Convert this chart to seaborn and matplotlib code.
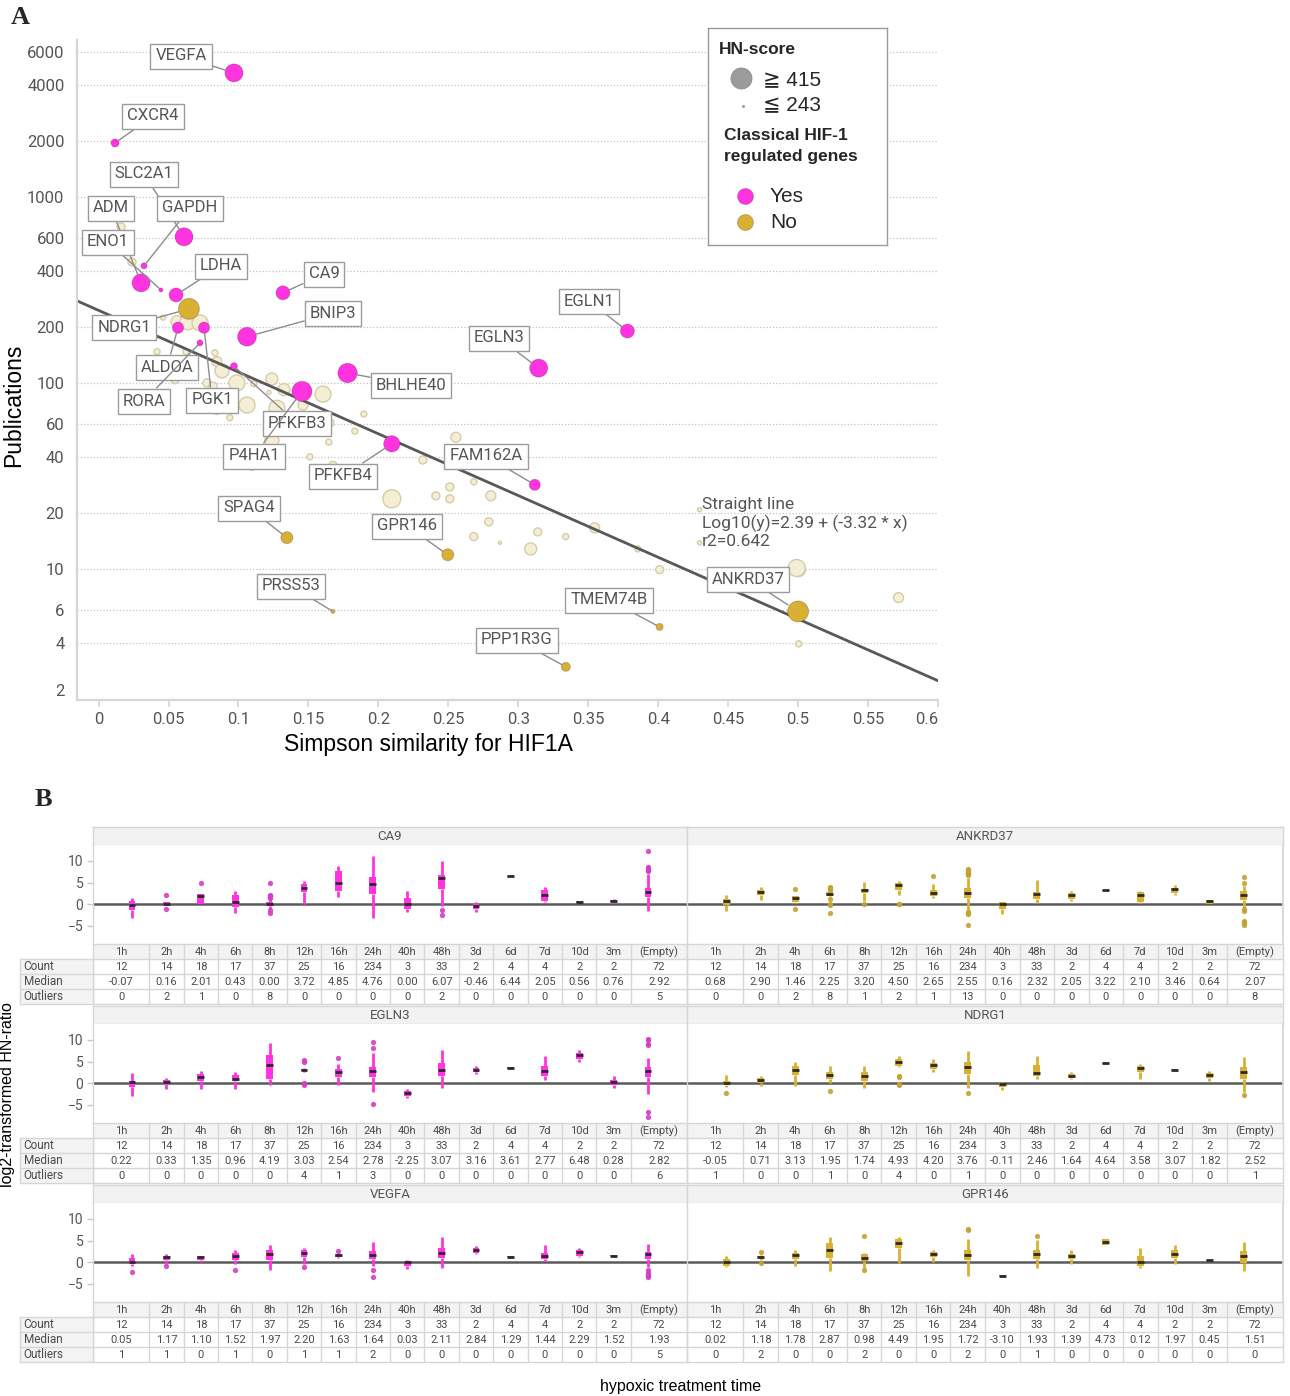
import numpy as np
import pandas as pd
import matplotlib
matplotlib.use("Agg")
import matplotlib.pyplot as plt
from matplotlib.patches import Rectangle
from matplotlib.ticker import NullLocator
import seaborn as sns

# ---------------------------------------------------------------- data (A)
genes = ["VEGFA", "CXCR4", "SLC2A1", "GAPDH", "ADM", "ENO1", "LDHA", "CA9",
         "BNIP3", "ALDOA", "PGK1", "RORA", "PFKFB3", "P4HA1", "BHLHE40",
         "PFKFB4", "EGLN1", "EGLN3", "FAM162A",
         "NDRG1", "SPAG4", "PRSS53", "GPR146", "TMEM74B", "PPP1R3G", "ANKRD37"]
gene_simpson = [0.0968, 0.0118, 0.0611, 0.0325, 0.0304, 0.0446, 0.0554, 0.1318,
                0.1061, 0.0568, 0.0754, 0.0725, 0.0968, 0.1454, 0.1780,
                0.2096, 0.3780, 0.3146, 0.3118,
                0.0646, 0.1346, 0.1675, 0.2496, 0.4010, 0.3340, 0.5000]
gene_pubs = [4645, 1950, 610, 426, 345, 316, 297, 305,
             177, 198, 198, 164, 123, 90, 113,
             47, 190, 120, 28.3,
             250, 14.7, 5.9, 11.9, 4.87, 2.97, 5.9]
gene_hn = [369, 265, 369, 254, 369, 246, 317, 317,
           380, 290, 290, 254, 259, 399, 390,
           345, 317, 369, 288,
           425, 297, 246, 297, 259, 272, 470]
gene_classical = ["Yes"] * 19 + ["No"] * 7

other_simpson = [0.0161, 0.0239, 0.0461, 0.0561, 0.0639, 0.0725, 0.0418, 0.0625, 0.0832, 0.0846,
                 0.0882, 0.0546, 0.0775, 0.0818, 0.0989, 0.1111, 0.1239, 0.1218, 0.1325, 0.1604,
                 0.1061, 0.0939, 0.0846, 0.1275, 0.1461, 0.1654, 0.1646, 0.1832, 0.1896, 0.1239,
                 0.1096, 0.1511, 0.1675, 0.2318, 0.2554, 0.2096, 0.2411, 0.2511, 0.2511, 0.2682,
                 0.2804, 0.2789, 0.2682, 0.2868, 0.3139, 0.3089, 0.3339, 0.3546, 0.3854, 0.4011,
                 0.4296, 0.4296, 0.5004, 0.4990, 0.5718, 0.5004]
other_pubs = [690, 447, 224, 213, 213, 210, 147, 147, 145, 130,
              116, 104, 100, 96, 100, 99, 105, 89, 92, 87,
              76, 65, 72, 73, 76, 61, 48, 55, 68, 49,
              36, 40, 36, 38.5, 51, 23.8, 24.7, 27.6, 23.8, 29.4,
              24.7, 17.9, 14.9, 13.8, 15.8, 12.8, 14.9, 16.6, 12.8, 9.9,
              20.8, 13.8, 9.9, 10.1, 7.0, 3.95]
other_hn = [265, 265, 249, 297, 341, 341, 254, 254, 254, 279,
            317, 265, 265, 265, 341, 254, 297, 246, 297, 341,
            341, 254, 279, 341, 279, 265, 254, 254, 254, 317,
            279, 254, 265, 265, 279, 369, 265, 265, 265, 254,
            279, 265, 265, 243, 265, 297, 254, 279, 254, 265,
            246, 246, 317, 355, 279, 254]

FIT_A, FIT_B, FIT_R2 = 2.39, -3.32, 0.642

YTICKS = [2, 4, 6, 10, 20, 40, 60, 100, 200, 400, 600, 1000, 2000, 4000, 6000]
XTICKS = [0, 0.05, 0.1, 0.15, 0.2, 0.25, 0.3, 0.35, 0.4, 0.45, 0.5, 0.55, 0.6]
XTICK_LABELS = ["0", "0.05", "0.1", "0.15", "0.2", "0.25", "0.3", "0.35",
                "0.4", "0.45", "0.5", "0.55", "0.6"]

# ---------------------------------------------------------------- data (B)
TIME_LABELS = ["1h", "2h", "4h", "6h", "8h", "12h", "16h", "24h", "40h", "48h",
               "3d", "6d", "7d", "10d", "3m", "(Empty)"]
COUNTS = [12, 14, 18, 17, 37, 25, 16, 234, 3, 33, 2, 4, 4, 2, 2, 72]

ca9_med = [-0.07, 0.16, 2.01, 0.43, 0.00, 3.72, 4.85, 4.76, 0.00, 6.07, -0.46, 6.44, 2.05, 0.56, 0.76, 2.92]
ca9_q1 = [-1.4, -0.2, 0.0, -0.6, -0.4, 2.9, 3.0, 2.3, -1.0, 3.6, -1.0, 6.35, 0.7, 0.35, 0.5, 1.7]
ca9_q3 = [0.7, 0.5, 2.3, 2.1, 0.6, 4.6, 7.7, 6.2, 1.5, 6.7, 0.0, 6.5, 3.3, 0.7, 1.0, 3.8]
ca9_lo = [-3.1, -0.2, 0.0, -2.0, -1.0, 0.0, 1.7, -3.1, -1.8, -0.4, -1.9, 6.35, 0.5, 0.35, 0.3, -1.5]
ca9_hi = [1.55, 0.5, 2.3, 3.1, 1.2, 5.4, 8.9, 11.2, 3.1, 10.0, 0.5, 6.5, 4.0, 0.7, 1.2, 7.0]
ca9_out = [[], [2.2, -1.0], [5.0], [], [5.0, 2.2, 2.0, 1.8, 1.6, 1.4, -1.4, -2.1], [], [], [], [],
           [-1.4, -2.4], [], [], [], [], [], [12.2, 8.7, 8.4, 7.9, 7.7]]

ankrd37_med = [0.68, 2.90, 1.46, 2.25, 3.20, 4.50, 2.65, 2.55, 0.16, 2.32, 2.05, 3.22, 2.10, 3.46, 0.64, 2.07]
ankrd37_q1 = [-0.2, 2.1, 0.6, 1.9, 2.5, 3.3, 1.9, 1.5, -1.0, 1.2, 1.3, 3.15, 0.5, 2.5, 0.0, 0.9]
ankrd37_q3 = [1.2, 3.3, 1.8, 2.8, 3.6, 5.0, 3.3, 3.8, 0.4, 2.9, 2.5, 3.3, 2.9, 3.8, 0.9, 3.0]
ankrd37_lo = [-1.6, 0.9, 0.3, 1.6, 0.8, 2.2, 1.5, -1.5, -2.2, 0.2, 0.7, 3.15, 0.2, 2.1, 0.0, -0.8]
ankrd37_hi = [2.2, 4.0, 2.0, 3.0, 5.2, 5.3, 4.6, 6.0, 0.5, 5.6, 3.0, 3.3, 3.0, 4.4, 0.9, 4.2]
ankrd37_out = [[], [], [3.5, -1.0], [4.0, 3.8, 3.6, 3.4, 1.3, 0.1, -0.2, -2.0], [0.0], [0.0, 0.1], [6.6],
               [8.1, 7.9, 7.7, 7.5, 7.3, 7.1, 7.0, 6.9, 6.7, -1.9, -2.0, -2.2, -4.7],
               [], [], [], [], [], [], [], [6.4, 5.0, -1.2, -1.5, -3.9, -4.0, -4.3, -4.7]]

egln3_med = [0.22, 0.33, 1.35, 0.96, 4.19, 3.03, 2.54, 2.78, -2.25, 3.07, 3.16, 3.61, 2.77, 6.48, 0.28, 2.82]
egln3_q1 = [-0.9, -0.15, 0.6, 0.4, 1.0, 2.8, 1.4, 1.4, -3.0, 1.6, 2.6, 3.4, 1.6, 5.7, -0.5, 1.4]
egln3_q3 = [0.6, 0.85, 2.2, 1.8, 6.6, 3.3, 3.3, 3.7, -1.9, 4.7, 3.5, 3.8, 4.1, 7.1, 0.85, 3.7]
egln3_lo = [-2.9, -1.3, -1.3, -1.3, -0.5, 2.5, -0.4, -2.1, -3.5, -1.2, 2.1, 3.4, 0.8, 4.9, -1.0, -2.5]
egln3_hi = [2.3, 1.2, 2.9, 2.7, 9.4, 3.5, 4.5, 7.1, -1.3, 7.6, 3.9, 3.8, 6.4, 7.8, 1.6, 5.8]
egln3_out = [[], [], [], [], [], [5.3, 5.0, 0.0, -0.3], [5.8], [9.5, 8.1, -4.8], [], [], [], [], [], [], [],
             [10.3, 10.1, 9.1, 8.9, -6.7, -7.9]]

ndrg1_med = [-0.05, 0.71, 3.13, 1.95, 1.74, 4.93, 4.20, 3.76, -0.11, 2.46, 1.64, 4.64, 3.58, 3.07, 1.82, 2.52]
ndrg1_q1 = [-0.5, 0.1, 1.8, 0.9, 0.6, 4.1, 3.3, 2.2, -0.9, 1.6, 1.2, 4.55, 2.6, 2.95, 1.2, 1.0]
ndrg1_q3 = [0.6, 1.2, 4.1, 2.6, 2.6, 5.7, 4.7, 5.0, 0.1, 4.3, 2.2, 4.75, 4.1, 3.2, 2.3, 3.7]
ndrg1_lo = [-0.9, -0.7, -0.7, 0.1, -1.2, 3.7, 2.6, -1.2, -1.6, 0.9, 0.9, 4.55, 0.9, 2.95, 0.4, -2.0]
ndrg1_hi = [1.8, 1.6, 5.0, 4.1, 4.0, 6.3, 5.5, 7.4, 0.3, 6.3, 2.6, 4.75, 4.5, 3.2, 2.9, 6.0]
ndrg1_out = [[-2.2], [], [], [-1.7], [], [1.6, 1.4, -0.15, -0.3], [], [-2.2], [], [], [], [], [], [], [], [-2.7]]

vegfa_med = [0.05, 1.17, 1.10, 1.52, 1.97, 2.20, 1.63, 1.64, 0.03, 2.11, 2.84, 1.29, 1.44, 2.29, 1.52, 1.93]
vegfa_q1 = [-0.5, 0.6, 0.6, 0.6, 0.6, 1.2, 1.2, 0.8, -0.8, 1.0, 2.2, 1.2, 0.8, 1.5, 1.45, 0.8]
vegfa_q3 = [1.0, 1.4, 1.4, 2.2, 2.8, 2.8, 2.0, 2.6, 0.2, 3.3, 3.3, 1.35, 2.2, 2.8, 1.6, 2.3]
vegfa_lo = [-0.9, -0.3, 0.0, -0.3, -1.7, -0.3, 1.0, -0.9, -1.6, -1.3, 1.8, 1.2, 0.2, 1.2, 1.45, -1.2]
vegfa_hi = [1.8, 1.8, 1.5, 2.9, 4.1, 3.3, 2.1, 4.7, 0.6, 5.9, 3.7, 1.35, 4.1, 3.3, 1.6, 4.3]
vegfa_out = [[-2.3], [-0.8], [], [-1.7], [], [-1.1], [2.6], [-1.9, -3.4], [], [], [], [], [], [], [],
             [-1.7, -2.6, -2.9, -3.3, -3.4]]

gpr146_med = [0.02, 1.18, 1.78, 2.87, 0.98, 4.49, 1.95, 1.72, -3.10, 1.93, 1.39, 4.73, 0.12, 1.97, 0.45, 1.51]
gpr146_q1 = [-0.8, 0.9, 0.8, 1.0, 0.2, 3.3, 1.2, 0.5, -3.2, 0.8, 0.8, 3.9, -0.9, 1.0, 0.35, -0.2]
gpr146_q3 = [0.8, 1.4, 2.2, 4.5, 1.8, 5.3, 2.3, 2.9, -3.0, 2.9, 2.0, 5.4, 1.4, 2.8, 0.55, 2.6]
gpr146_lo = [-1.1, 0.5, -0.8, -2.1, -1.3, -0.2, 0.0, -3.1, -3.2, -1.3, -0.3, 3.9, -1.3, -0.3, 0.35, -2.1]
gpr146_hi = [1.4, 1.6, 2.8, 5.9, 2.2, 5.9, 2.8, 5.3, -3.0, 5.1, 2.8, 5.4, 3.3, 3.9, 0.55, 4.7]
gpr146_out = [[], [2.3, -0.2], [], [], [6.0, -1.9], [], [], [7.8, 7.4], [], [6.0], [], [], [], [], [], []]

B_LAYOUT = [["CA9", "ANKRD37"], ["EGLN3", "NDRG1"], ["VEGFA", "GPR146"]]
B_STATS = {
    "CA9": (ca9_med, ca9_q1, ca9_q3, ca9_lo, ca9_hi, ca9_out),
    "ANKRD37": (ankrd37_med, ankrd37_q1, ankrd37_q3, ankrd37_lo, ankrd37_hi, ankrd37_out),
    "EGLN3": (egln3_med, egln3_q1, egln3_q3, egln3_lo, egln3_hi, egln3_out),
    "NDRG1": (ndrg1_med, ndrg1_q1, ndrg1_q3, ndrg1_lo, ndrg1_hi, ndrg1_out),
    "VEGFA": (vegfa_med, vegfa_q1, vegfa_q3, vegfa_lo, vegfa_hi, vegfa_out),
    "GPR146": (gpr146_med, gpr146_q1, gpr146_q3, gpr146_lo, gpr146_hi, gpr146_out),
}

# ---------------------------------------------------------------- styling
W, H, DPI = 1290, 1396, 100
PINK = "#FF33E0"
GOLD = "#D8B032"
PINK_OUT = "#D43DC6"
GOLD_OUT = "#C4A232"
CREAM = "#F5EED7"
CREAM_EDGE = "#D6CCA8"
TXT = "#555555"
SPINE = "#D3D6DC"
CELL = "#D6D6D6"
ARIAL = ["Liberation Sans", "DejaVu Sans"]

sns.set_theme(style="white")
plt.rcParams["font.family"] = ["Roboto", "DejaVu Sans"]

SIZE_RANGE = (4.7, 228.0)
SIZE_NORM = (243, 415)


def marker_area(score):
    lo, hi = SIZE_RANGE
    return lo + (score - SIZE_NORM[0]) / (SIZE_NORM[1] - SIZE_NORM[0]) * (hi - lo)


def frect(x0, y0, x1, y1):
    return [x0 / W, 1 - y1 / H, (x1 - x0) / W, (y1 - y0) / H]


fig = plt.figure(figsize=(W / DPI, H / DPI), dpi=DPI)
fig.patch.set_facecolor("white")

# ================================================================ panel A
AX_L, AX_T, AX_R, AX_B = 77, 40, 938, 700
axA = fig.add_axes(frect(AX_L, AX_T, AX_R, AX_B))
XMIN, XMAX = -0.0154, 0.6
YMIN, YMAX = 1.97, 6980
axA.set_yscale("log")

others = pd.DataFrame(dict(simpson=other_simpson, pubs=other_pubs, hn=other_hn))
sns.scatterplot(data=others, x="simpson", y="pubs", size="hn", sizes=SIZE_RANGE,
                size_norm=SIZE_NORM, color=CREAM, edgecolor=CREAM_EDGE, linewidth=1.0,
                legend=False, ax=axA, zorder=2)

xs = np.array([XMIN, XMAX])
axA.plot(xs, 10 ** (FIT_A + FIT_B * xs), color="#585858", lw=2.0, zorder=2.5)

highlight = pd.DataFrame(dict(gene=genes, simpson=gene_simpson, pubs=gene_pubs,
                              hn=gene_hn, classical=gene_classical))
sns.scatterplot(data=highlight, x="simpson", y="pubs", size="hn", sizes=SIZE_RANGE,
                size_norm=SIZE_NORM, hue="classical", palette={"Yes": PINK, "No": GOLD},
                edgecolor=(0.2, 0.0, 0.2, 0.22), linewidth=0.7, legend=False, ax=axA, zorder=3)

axA.set_xlim(XMIN, XMAX)
axA.set_ylim(YMIN, YMAX)
axA.set_xlabel("")
axA.set_ylabel("")
axA.set_yticks(YTICKS, labels=[str(v) for v in YTICKS])
axA.yaxis.set_minor_locator(NullLocator())
axA.set_xticks(XTICKS, labels=XTICK_LABELS)
axA.get_xticklabels()[-1].set_ha("right")
axA.get_yticklabels()[0].set_va("bottom")
axA.tick_params(axis="y", length=0, pad=9, labelsize=12, labelcolor=TXT)
axA.tick_params(axis="x", length=5, width=1.2, color=SPINE, pad=4, labelsize=12,
                labelcolor=TXT, direction="out", bottom=True)
axA.grid(axis="y", linestyle=(0, (1, 1.6)), color="#C4C4C4", lw=0.9)
axA.grid(axis="x", visible=False)
axA.set_axisbelow(True)
for side in ("top", "right"):
    axA.spines[side].set_visible(False)
for side in ("left", "bottom"):
    axA.spines[side].set_color(SPINE)
    axA.spines[side].set_linewidth(1.6)

# gene labels (box centres, figure pixels)
LABEL_POS = {
    "VEGFA": (181, 56), "CXCR4": (153, 116), "SLC2A1": (144, 174), "ADM": (111, 208),
    "GAPDH": (190, 208), "ENO1": (108, 242), "LDHA": (221, 266), "CA9": (324, 274),
    "BNIP3": (333, 313), "NDRG1": (124, 327), "ALDOA": (167, 367), "RORA": (144, 401),
    "PGK1": (212, 400), "PFKFB3": (297, 423), "P4HA1": (254, 456), "PFKFB4": (343, 476),
    "BHLHE40": (411, 385), "EGLN1": (589, 301), "EGLN3": (499, 338), "FAM162A": (486, 456),
    "SPAG4": (249, 508), "GPR146": (407, 526), "PRSS53": (291, 586), "TMEM74B": (609, 600),
    "PPP1R3G": (517, 640), "ANKRD37": (748, 579),
}
for g, x, y, hn in zip(genes, gene_simpson, gene_pubs, gene_hn):
    px, py = LABEL_POS[g]
    fx = (px - AX_L) / (AX_R - AX_L)
    fy = 1 - (py - AX_T) / (AX_B - AX_T)
    axA.annotate(g, xy=(x, y), xytext=(fx, fy), textcoords="axes fraction",
                 ha="center", va="center", fontsize=12, color=TXT,
                 bbox=dict(boxstyle="square,pad=0.3", fc="white", ec="#9C9C9C", lw=1.0),
                 arrowprops=dict(arrowstyle="-", color="#8C8C8C", lw=1.0, shrinkA=0,
                                 shrinkB=np.sqrt(marker_area(hn)) / 2),
                 zorder=5)

fit_text = (f"Straight line\nLog10(y)={FIT_A:.2f} + ({FIT_B:.2f} * x)\nr2={FIT_R2:.3f}")
axA.text((702 - AX_L) / (AX_R - AX_L), 1 - (497 - AX_T) / (AX_B - AX_T), fit_text,
         transform=axA.transAxes, ha="left", va="top", fontsize=12.5, color=TXT,
         linespacing=1.2, zorder=4)

fig.text(14 / W, 1 - 405 / H, "Publications", rotation=90, ha="center", va="center",
         fontsize=16.5, family=ARIAL, color="black")
fig.text(428 / W, 1 - 744 / H, "Simpson similarity for HIF1A", ha="center", va="center",
         fontsize=16.5, family=ARIAL, color="black")

# legend box
axL = fig.add_axes(frect(708, 28, 887, 245))
axL.set_xlim(0, 179)
axL.set_ylim(217, 0)
axL.set_xticks([])
axL.set_yticks([])
axL.set_facecolor("white")
for sp in axL.spines.values():
    sp.set_linestyle((0, (1, 1)))
    sp.set_color("#9A9A9A")
    sp.set_linewidth(1.0)
axL.text(11, 21, "HN-score", fontsize=12.5, fontweight="bold", family=ARIAL, va="center")
axL.scatter([33], [50], s=marker_area(415), color="#9B9B9B", edgecolor="#8A8A8A", lw=0.6)
axL.scatter([35], [78], s=marker_area(243), color="#9B9B9B", lw=0)
axL.text(55, 52, "\u2267 415", fontsize=15, family=ARIAL, va="center")
axL.text(55, 77, "\u2266 243", fontsize=15, family=ARIAL, va="center")
axL.text(16, 108, "Classical HIF-1", fontsize=12.5, fontweight="bold", family=ARIAL, va="center")
axL.text(16, 129, "regulated genes", fontsize=12.5, fontweight="bold", family=ARIAL, va="center")
axL.scatter([37], [168], s=132, color=PINK, edgecolor=(0.2, 0, 0.2, 0.22), lw=0.7)
axL.scatter([37], [194], s=132, color=GOLD, edgecolor=(0.2, 0, 0.2, 0.22), lw=0.7)
axL.text(62, 169, "Yes", fontsize=15, family=ARIAL, va="center")
axL.text(62, 195, "No", fontsize=15, family=ARIAL, va="center")

fig.text(20 / W, 1 - 17 / H, "A", fontsize=19, fontweight="bold",
         family=["Liberation Serif", "DejaVu Serif"], ha="center", va="center")
fig.text(43 / W, 1 - 800 / H, "B", fontsize=19, fontweight="bold",
         family=["Liberation Serif", "DejaVu Serif"], ha="center", va="center")

# ================================================================ panel B
N = len(TIME_LABELS)
pos = np.arange(N)
BX0, BX1 = -1.134, N - 1 + 1.134
BY0, BY1 = -9.2, 13.7
ROW_TOPS = [827, 1006, 1185]
COLS = [(93, 687), (687, 1283)]
STRIP_H, PLOT_H, CELL_H = 18, 99, 15
gene_class = dict(zip(genes, gene_classical))
bounds = np.array([BX0] + list(pos[:-1] + 0.5) + [BX1])
cell_centres = (bounds[:-1] + bounds[1:]) / 2

for r, pair in enumerate(B_LAYOUT):
    top = ROW_TOPS[r]
    for c, gene in enumerate(pair):
        x0, x1 = COLS[c]
        col = PINK if gene_class[gene] == "Yes" else GOLD
        ocol = PINK_OUT if gene_class[gene] == "Yes" else GOLD_OUT
        med, q1, q3, lo, hi, out = B_STATS[gene]

        # header strip
        axs = fig.add_axes(frect(x0, top, x1, top + STRIP_H))
        axs.set_facecolor("#F2F2F2")
        axs.set_xticks([])
        axs.set_yticks([])
        for sp in axs.spines.values():
            sp.set_color(CELL)
            sp.set_linewidth(1.0)
        axs.text(0.5, 0.45, gene, transform=axs.transAxes, ha="center", va="center",
                 fontsize=9.5, color=TXT)

        # box plot area
        axp = fig.add_axes(frect(x0, top + STRIP_H, x1, top + STRIP_H + PLOT_H))
        axp.set_facecolor("white")
        axp.axhline(0, color="#5A5A5A", lw=1.8, zorder=1)
        stats = [dict(med=m, q1=a, q3=b, whislo=l, whishi=h, fliers=np.array(f, dtype=float))
                 for m, a, b, l, h, f in zip(med, q1, q3, lo, hi, out)]
        axp.bxp(stats, positions=pos, widths=0.2, showcaps=False, patch_artist=True,
                manage_ticks=False,
                boxprops=dict(facecolor=col, edgecolor="none", linewidth=0),
                whiskerprops=dict(color=col, linewidth=2.0, solid_capstyle="butt"),
                medianprops=dict(color="#2A2A2A", linewidth=2.0, solid_capstyle="butt"),
                flierprops=dict(marker="o", markersize=3.8, markerfacecolor=ocol,
                                markeredgecolor="none", alpha=0.9))
        axp.set_xlim(BX0, BX1)
        axp.set_ylim(BY0, BY1)
        axp.set_xticks([])
        axp.grid(False)
        for side in ("top", "bottom"):
            axp.spines[side].set_visible(False)
        axp.spines["left"].set_color(CELL)
        axp.spines["left"].set_linewidth(1.0)
        axp.spines["right"].set_visible(c == 1)
        axp.spines["right"].set_color(CELL)
        if c == 0:
            axp.set_yticks([-5, 0, 5, 10])
            axp.tick_params(axis="y", length=4, width=1, color="#C8C8C8", pad=3,
                            labelsize=10, labelcolor=TXT, left=True)
        else:
            axp.set_yticks([])

        # summary table under the plot
        t0 = top + STRIP_H + PLOT_H
        axt = fig.add_axes(frect(x0, t0, x1, t0 + 4 * CELL_H))
        axt.set_xlim(BX0, BX1)
        axt.set_ylim(4, 0)
        axt.axis("off")
        axt.add_patch(Rectangle((BX0, 0), BX1 - BX0, 1, fc="#F3F3F3", ec="none"))
        for yy in range(5):
            axt.plot([BX0, BX1], [yy, yy], color=CELL, lw=1.0, clip_on=False)
        for b in bounds:
            axt.plot([b, b], [0, 4], color=CELL, lw=1.0, clip_on=False)
        rows = [TIME_LABELS,
                [str(v) for v in COUNTS],
                [f"{v:.2f}" for v in med],
                [str(len(f)) for f in out]]
        for ri, vals in enumerate(rows):
            for ci, v in enumerate(vals):
                axt.text(cell_centres[ci], ri + 0.52, v, ha="center", va="center",
                         fontsize=8, color="#4A4A4A")

        if c == 0:
            axr = fig.add_axes(frect(20, t0 + CELL_H, x0, t0 + 4 * CELL_H))
            axr.set_xlim(0, 1)
            axr.set_ylim(3, 0)
            axr.axis("off")
            axr.add_patch(Rectangle((0, 0), 1, 3, fc="#F3F3F3", ec="none"))
            for yy in range(4):
                axr.plot([0, 1], [yy, yy], color=CELL, lw=1.0, clip_on=False)
            for xx in (0, 1):
                axr.plot([xx, xx], [0, 3], color=CELL, lw=1.0, clip_on=False)
            for ri, name in enumerate(["Count", "Median", "Outliers"]):
                axr.text(0.05, ri + 0.52, name, ha="left", va="center", fontsize=8.5,
                         color="#4A4A4A")

fig.text(8 / W, 1 - 1095 / H, "log2-transformed HN-ratio", rotation=90, ha="center",
         va="center", fontsize=11.5, family=ARIAL, color="black")
fig.text(681 / W, 1 - 1386 / H, "hypoxic treatment time", ha="center", va="center",
         fontsize=11.5, family=ARIAL, color="black")

fig.savefig("out.png", dpi=DPI, facecolor="white")
